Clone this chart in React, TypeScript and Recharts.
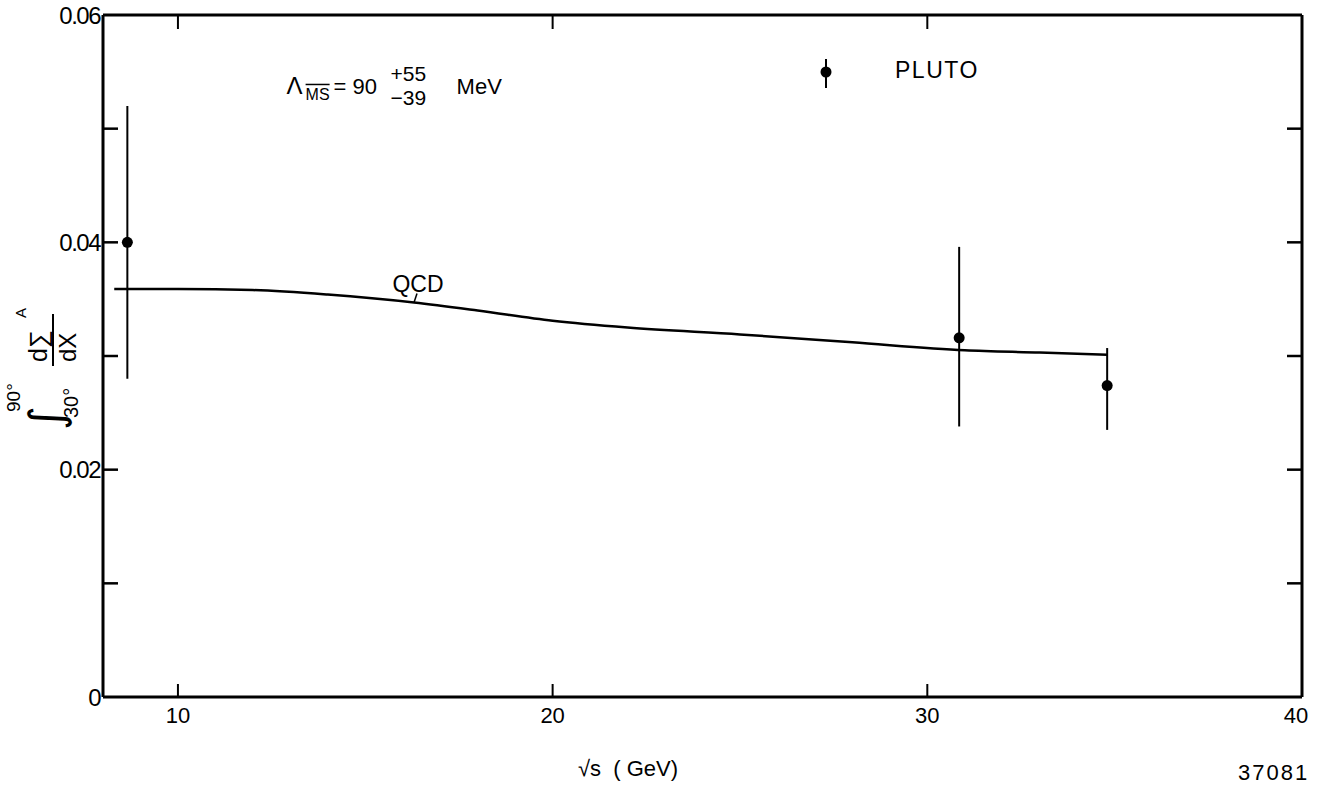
import React from 'react';
import {
  ComposedChart, Line, Scatter, ErrorBar, XAxis, YAxis, ReferenceDot, Legend,
} from 'recharts';

const FONT = '"Liberation Sans", Arial, sans-serif';

// axis ticks
const xTicks = [10, 20, 30, 40];
const yTicks = [0, 0.01, 0.02, 0.03, 0.04, 0.05, 0.06];
const yTickLabels = ['0', '', '0.02', '', '0.04', '', '0.06'];

// QCD curve (Lambda_MSbar = 90 MeV)
const qcdX = [8.3, 10, 12, 14, 16.3, 18, 20, 22, 25, 28, 31, 33, 34.8];
const qcdY = [0.0359, 0.0359, 0.0358, 0.0354, 0.0347, 0.034, 0.0331, 0.0325, 0.0319, 0.0312, 0.0305, 0.0303, 0.0301];

// PLUTO measurements
const plutoX = [8.65, 30.85, 34.8];
const plutoY = [0.04, 0.0316, 0.0274];
const plutoErrLo = [0.012, 0.0078, 0.0039];
const plutoErrHi = [0.012, 0.008, 0.0033];

const qcdData = qcdX.map((x, i) => ({ x, y: qcdY[i] }));
const plutoData = plutoX.map((x, i) => ({ x, y: plutoY[i], err: [plutoErrLo[i], plutoErrHi[i]] }));

const LeftTick = (props: any) => {
  const { x, y, index } = props;
  const inner = index > 0 && index < yTicks.length - 1;
  return (
    <g>
      {inner && <line x1={x} x2={x + 15} y1={y} y2={y} stroke="#000" strokeWidth={2.5} />}
      <text x={x - 3} y={y} textAnchor="end" dominantBaseline="central" fontSize={24} fontFamily={FONT} letterSpacing={-1.5} fill="#000">
        {yTickLabels[index]}
      </text>
    </g>
  );
};

const RightTick = (props: any) => {
  const { x, y, index } = props;
  if (index === 0 || index === yTicks.length - 1) return <g />;
  return <line x1={x} x2={x - 15} y1={y} y2={y} stroke="#000" strokeWidth={2.5} />;
};

const BottomTick = (props: any) => {
  const { x, y, payload } = props;
  return (
    <g>
      {payload.value < 40 && <line x1={x} x2={x} y1={y} y2={y - 13} stroke="#000" strokeWidth={2} />}
      <text x={payload.value === 40 ? x - 6 : x} y={y + 10} textAnchor="middle" dominantBaseline="hanging" fontSize={22} fontFamily={FONT} fill="#000">
        {payload.value}
      </text>
    </g>
  );
};

const TopTick = (props: any) => {
  const { x, y, payload } = props;
  if (payload.value >= 40) return <g />;
  return <line x1={x} x2={x} y1={y} y2={y + 14} stroke="#000" strokeWidth={2} />;
};

const YLabel = (props: any) => {
  const vb = props.viewBox || { x: 0, y: 15 };
  const X0 = vb.x + 52;
  const Y0 = vb.y + 417;
  const t = { fontFamily: FONT, fill: '#000' };
  return (
    <g transform={`translate(${X0}, ${Y0}) rotate(-90)`}>
      <text x={2} y={-6} fontSize={46} dominantBaseline="central" {...t} fontFamily="DejaVu Sans">∫</text>
      <text x={20} y={-32} fontSize={19} {...t}>90°</text>
      <text x={14} y={26} fontSize={20} {...t}>30°</text>
      <text x={70} y={-5} fontSize={25} {...t}>d∑</text>
      <text x={114} y={-26} fontSize={15} {...t}>A</text>
      <line x1={66} x2={118} y1={1} y2={1} stroke="#000" strokeWidth={2} />
      <text x={70} y={24} fontSize={24} {...t}>dX</text>
    </g>
  );
};

const PlutoDot = (props: any) => {
  const { cx, cy } = props;
  return <circle cx={cx} cy={cy} r={5.5} fill="#000" />;
};

const QcdTag = (props: any) => {
  const { cx, cy } = props;
  return (
    <g>
      <line x1={cx} x2={cx + 3} y1={cy} y2={cy - 9} stroke="#000" strokeWidth={1.5} />
      <text x={cx + 4} y={cy - 19} textAnchor="middle" dominantBaseline="central" fontSize={23} fontFamily={FONT} fill="#000">QCD</text>
    </g>
  );
};

const LambdaTag = (props: any) => {
  const { cx, cy } = props;
  const t = { fontFamily: FONT, fill: '#000' };
  return (
    <g>
      <text x={cx} y={cy + 9} fontSize={24} {...t}>Λ</text>
      <text x={cx + 19} y={cy + 15} fontSize={16} {...t}>MS</text>
      <line x1={cx + 19} x2={cx + 43} y1={cy - 1} y2={cy - 1} stroke="#000" strokeWidth={1.5} />
      <text x={cx + 47} y={cy + 9} fontSize={22} {...t}>= 90</text>
      <text x={cx + 104} y={cy - 4} fontSize={21} {...t}>+55</text>
      <text x={cx + 104} y={cy + 20} fontSize={21} {...t}>−39</text>
      <text x={cx + 170} y={cy + 9} fontSize={22} {...t}>MeV</text>
    </g>
  );
};

const LegendBox = (props: any) => {
  const entry = (props.payload || []).find((p: any) => p.value === 'PLUTO');
  return (
    <svg width={200} height={40} style={{ display: 'block' }}>
      <line x1={16} x2={16} y1={4} y2={33} stroke="#000" strokeWidth={2} />
      <circle cx={16} cy={17} r={5.5} fill="#000" />
      <text x={85} y={15} dominantBaseline="central" fontSize={23} letterSpacing={1.5} fontFamily={FONT} fill="#000">
        {entry ? entry.value : 'PLUTO'}
      </text>
    </svg>
  );
};

export default function App() {
  return (
    <div style={{ position: 'absolute', left: 0, top: 0, width: 1324, height: 789, background: '#fff' }}>
      <ComposedChart width={1324} height={789} margin={{ top: 0, right: 0, bottom: 0, left: 0 }}>
        <XAxis
          xAxisId="b"
          dataKey="x"
          type="number"
          domain={[8, 40]}
          ticks={xTicks}
          interval={0}
          height={92}
          tickSize={0}
          tickMargin={0}
          axisLine={{ stroke: '#000', strokeWidth: 3 }}
          tickLine={false}
          tick={<BottomTick />}
          allowDataOverflow
        />
        <XAxis
          xAxisId="t"
          orientation="top"
          dataKey="x"
          type="number"
          domain={[8, 40]}
          ticks={xTicks}
          interval={0}
          height={15}
          tickSize={0}
          tickMargin={0}
          axisLine={{ stroke: '#000', strokeWidth: 3 }}
          tickLine={false}
          tick={<TopTick />}
          allowDataOverflow
        />
        <YAxis
          yAxisId="l"
          type="number"
          domain={[0, 0.06]}
          ticks={yTicks}
          interval={0}
          width={103}
          tickSize={0}
          tickMargin={0}
          axisLine={{ stroke: '#000', strokeWidth: 3 }}
          tickLine={false}
          tick={<LeftTick />}
          label={{ content: <YLabel /> }}
          allowDataOverflow
        />
        <YAxis
          yAxisId="r"
          orientation="right"
          type="number"
          domain={[0, 0.06]}
          ticks={yTicks}
          interval={0}
          width={22}
          tickSize={0}
          tickMargin={0}
          axisLine={{ stroke: '#000', strokeWidth: 3 }}
          tickLine={false}
          tick={<RightTick />}
          allowDataOverflow
        />
        <Line
          xAxisId="b"
          yAxisId="l"
          data={qcdData}
          dataKey="y"
          name="QCD"
          type="monotone"
          dot={false}
          stroke="#000"
          strokeWidth={2.5}
          legendType="none"
          isAnimationActive={false}
        />
        <Scatter
          xAxisId="b"
          yAxisId="l"
          data={plutoData}
          dataKey="y"
          name="PLUTO"
          shape={<PlutoDot />}
          isAnimationActive={false}
        >
          <ErrorBar dataKey="err" direction="y" width={0} stroke="#000" strokeWidth={2} isAnimationActive={false} />
        </Scatter>
        <ReferenceDot xAxisId="b" yAxisId="l" x={16.3} y={0.0347} shape={<QcdTag />} />
        <ReferenceDot xAxisId="b" yAxisId="l" x={12.9} y={0.0538} shape={<LambdaTag />} />
        <Legend
          layout="vertical"
          align="center"
          verticalAlign="middle"
          content={<LegendBox />}
          wrapperStyle={{ position: 'absolute', left: 810, top: 55, width: 200 }}
        />
      </ComposedChart>
      <div style={{ position: 'absolute', left: 578, top: 756, fontFamily: FONT, fontSize: 22, whiteSpace: 'pre' }}>
        √s  ( GeV)
      </div>
      <div style={{ position: 'absolute', left: 1238, top: 760, fontFamily: FONT, fontSize: 22, lineHeight: '26px', letterSpacing: 2 }}>
        37081
      </div>
    </div>
  );
}
